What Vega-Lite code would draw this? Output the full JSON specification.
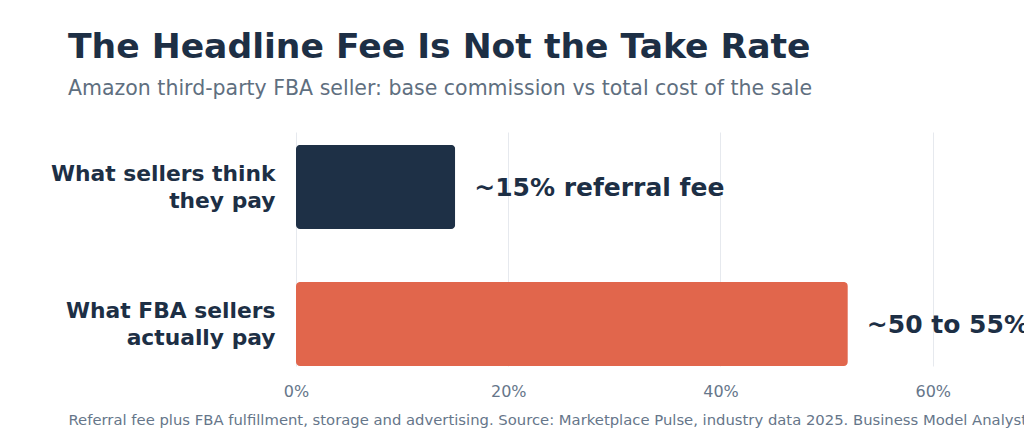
{
  "$schema": "https://vega.github.io/schema/vega-lite/v6.json",
  "autosize": {"type": "none"},
  "padding": {"left": 296, "top": 132, "right": 0, "bottom": 75},
  "width": 728,
  "height": 234,
  "background": "#ffffff",
  "config": {
    "font": "DejaVu Sans",
    "view": {"stroke": null}
  },
  "title": {
    "text": "The Headline Fee Is Not the Take Rate",
    "subtitle": "Amazon third-party FBA seller: base commission vs total cost of the sale",
    "anchor": "start",
    "frame": "group",
    "dx": -228,
    "offset": 32,
    "font": "DejaVu Sans",
    "fontSize": 34.6,
    "fontWeight": "bold",
    "color": "#1d2f45",
    "subtitleFont": "DejaVu Sans",
    "subtitleFontSize": 20.5,
    "subtitleColor": "#5f6f80",
    "subtitlePadding": 13
  },
  "data": {
    "values": [
      {"group": "What sellers think they pay", "pct": 15, "label": "~15% referral fee", "kind": "think"},
      {"group": "What FBA sellers actually pay", "pct": 52, "label": "~50 to 55%", "kind": "actual"}
    ]
  },
  "encoding": {
    "y": {
      "field": "group",
      "type": "nominal",
      "sort": ["What sellers think they pay", "What FBA sellers actually pay"],
      "scale": {"paddingInner": 0.387, "paddingOuter": 0.047, "align": 1},
      "axis": {
        "title": null,
        "domain": false,
        "ticks": false,
        "labelPadding": 21,
        "labelFont": "DejaVu Sans",
        "labelFontSize": 21.8,
        "labelFontWeight": "bold",
        "labelColor": "#1d2f45",
        "labelLineHeight": 27,
        "labelOffset": -13,
        "labelLimit": 300,
        "labelExpr": "datum.value == 'What sellers think they pay' ? ['What sellers think', 'they pay'] : ['What FBA sellers', 'actually pay']"
      }
    },
    "x": {
      "field": "pct",
      "type": "quantitative",
      "scale": {"domain": [0, 68.6], "nice": false},
      "axis": {
        "values": [0, 20, 40, 60],
        "labelExpr": "datum.value + '%'",
        "labelFlush": false,
        "domain": false,
        "ticks": false,
        "grid": true,
        "gridColor": "#e6e9ee",
        "gridWidth": 1,
        "labelFont": "DejaVu Sans",
        "labelFontSize": 16,
        "labelColor": "#66768a",
        "labelPadding": 17,
        "title": "Referral fee plus FBA fulfillment, storage and advertising. Source: Marketplace Pulse, industry data 2025. Business Model Analyst",
        "titleFont": "DejaVu Sans",
        "titleFontSize": 14.8,
        "titleFontWeight": "normal",
        "titleColor": "#66768a",
        "titleAnchor": "start",
        "titleAlign": "left",
        "titleBaseline": "middle",
        "titleX": -228,
        "titleY": 54
      }
    }
  },
  "layer": [
    {
      "mark": {"type": "bar", "cornerRadius": 4},
      "encoding": {
        "color": {
          "field": "kind",
          "type": "nominal",
          "scale": {"domain": ["think", "actual"], "range": ["#1e3046", "#e1664c"]},
          "legend": null
        }
      }
    },
    {
      "mark": {
        "type": "text",
        "align": "left",
        "baseline": "middle",
        "dx": 19,
        "dy": 1,
        "font": "DejaVu Sans",
        "fontSize": 25,
        "fontWeight": "bold",
        "color": "#1d2f45"
      },
      "encoding": {"text": {"field": "label"}}
    }
  ]
}
